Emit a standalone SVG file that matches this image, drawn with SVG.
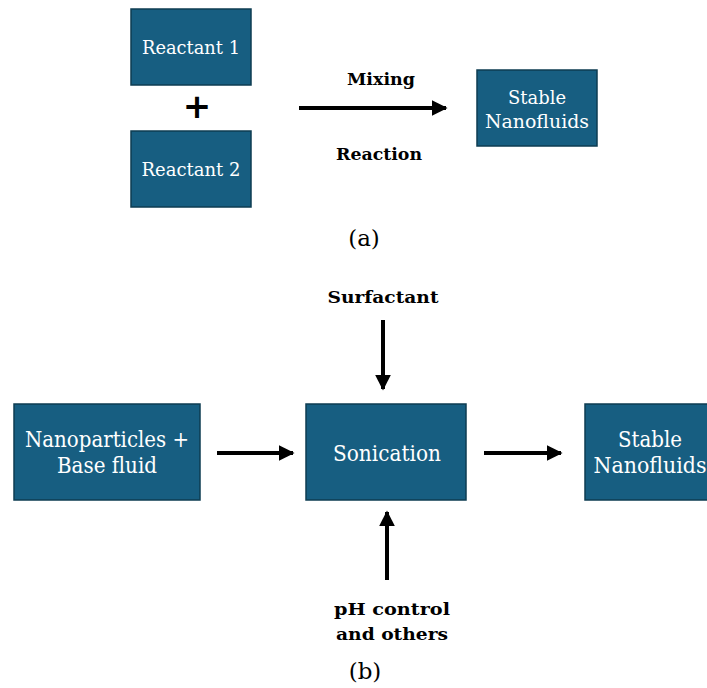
<svg xmlns="http://www.w3.org/2000/svg" width="707" height="688" viewBox="0 0 707 688">
  <style>
    .box { fill: #175e81; stroke: #0e3d52; stroke-width: 1.5; }
    .lbl { font-family: "DejaVu Serif", "Liberation Serif", serif; fill: #ffffff; text-anchor: middle; }
    .cap { font-family: "DejaVu Serif", "Liberation Serif", serif; fill: #000000; text-anchor: middle; font-weight: bold; font-size: 17px; }
    .sub { font-family: "DejaVu Serif", "Liberation Serif", serif; fill: #000000; text-anchor: middle; font-size: 23px; }
    .conn { stroke: #000000; stroke-width: 4; fill: none; }
  </style>
  <defs>
    <marker id="head" viewBox="0 0 10 10" refX="9" refY="5" markerWidth="4" markerHeight="4" orient="auto" markerUnits="strokeWidth">
      <path d="M0,0 L10,5 L0,10 Z" fill="#000000"/>
    </marker>
  </defs>
  <rect width="707" height="688" fill="#ffffff"/>

  <!-- (a) one-step route -->
  <g id="reactant1">
    <rect class="box" x="131" y="9" width="120" height="76"/>
    <text class="lbl" x="191" y="54" font-size="19" textLength="98" lengthAdjust="spacingAndGlyphs">Reactant 1</text>
  </g>
  <g id="plus">
    <text x="197" y="118" font-family="DejaVu Sans, sans-serif" font-size="34" font-weight="bold" text-anchor="middle">+</text>
  </g>
  <g id="reactant2">
    <rect class="box" x="131" y="131" width="120" height="76"/>
    <text class="lbl" x="191" y="176" font-size="19" textLength="99" lengthAdjust="spacingAndGlyphs">Reactant 2</text>
  </g>
  <g id="stable-a">
    <rect class="box" x="477" y="70" width="120" height="76"/>
    <text class="lbl" x="537" y="104" font-size="19" textLength="58" lengthAdjust="spacingAndGlyphs">Stable</text>
    <text class="lbl" x="537" y="128" font-size="19" textLength="104" lengthAdjust="spacingAndGlyphs">Nanofluids</text>
  </g>
  <text class="cap" x="381" y="85" textLength="68" lengthAdjust="spacingAndGlyphs">Mixing</text>
  <text class="cap" x="379" y="160" textLength="86" lengthAdjust="spacingAndGlyphs">Reaction</text>
  <text class="sub" x="364" y="246">(a)</text>

  <!-- (b) two-step route -->
  <text class="cap" x="383" y="303" textLength="111" lengthAdjust="spacingAndGlyphs">Surfactant</text>
  <g id="nanoparticles">
    <rect class="box" x="14" y="404" width="186" height="96"/>
    <text class="lbl" x="107" y="447" font-size="22" textLength="164" lengthAdjust="spacingAndGlyphs">Nanoparticles +</text>
    <text class="lbl" x="107" y="473" font-size="22" textLength="100" lengthAdjust="spacingAndGlyphs">Base fluid</text>
  </g>
  <g id="sonication">
    <rect class="box" x="306" y="404" width="160" height="96"/>
    <text class="lbl" x="387" y="461" font-size="22" textLength="108" lengthAdjust="spacingAndGlyphs">Sonication</text>
  </g>
  <g id="stable-b">
    <rect class="box" x="585" y="404" width="130" height="96"/>
    <text class="lbl" x="650" y="447" font-size="22" textLength="64" lengthAdjust="spacingAndGlyphs">Stable</text>
    <text class="lbl" x="650" y="473" font-size="22" textLength="113" lengthAdjust="spacingAndGlyphs">Nanofluids</text>
  </g>
  <text class="cap" x="392" y="615" textLength="116" lengthAdjust="spacingAndGlyphs">pH control</text>
  <text class="cap" x="392" y="640" textLength="112" lengthAdjust="spacingAndGlyphs">and others</text>
  <text class="sub" x="365" y="679">(b)</text>

  <g id="connectors">
    <line class="conn" x1="299" y1="108" x2="446" y2="108" marker-end="url(#head)"/>
    <line class="conn" x1="383" y1="320" x2="383" y2="389" marker-end="url(#head)"/>
    <line class="conn" x1="217" y1="453" x2="293" y2="453" marker-end="url(#head)"/>
    <line class="conn" x1="484" y1="453" x2="561" y2="453" marker-end="url(#head)"/>
    <line class="conn" x1="387" y1="580" x2="387" y2="512" marker-end="url(#head)"/>
  </g>
</svg>
